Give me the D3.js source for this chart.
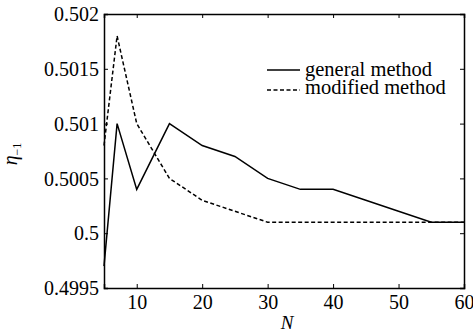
<!DOCTYPE html>
<html>
<head>
<meta charset="utf-8">
<script src="https://cdn.jsdelivr.net/npm/d3@7"></script>
<style>
  body { margin: 0; background: #fff; }
</style>
</head>
<body>
<div id="chart"></div>
<script>
// data
const nValues = [5, 7, 10, 15, 20, 25, 30, 35, 40, 45, 50, 55, 60];
const generalMethod = [0.4997, 0.501, 0.5004, 0.501, 0.5008, 0.5007, 0.5005, 0.5004, 0.5004, 0.5003, 0.5002, 0.5001, 0.5001];
const modifiedMethod = [0.5008, 0.5018, 0.501, 0.5005, 0.5003, 0.5002, 0.5001, 0.5001, 0.5001, 0.5001, 0.5001, 0.5001, 0.5001];
const xTicks = [10, 20, 30, 40, 50, 60];
const yTicks = [0.4995, 0.5, 0.5005, 0.501, 0.5015, 0.502];
const seriesNames = ["general method", "modified method"];

const width = 473, height = 335;
const margin = { top: 14, right: 9, bottom: 47, left: 104 };
const fontSize = 20;
const serif = "Times, 'Times New Roman', 'Liberation Serif', 'DejaVu Serif', serif";

const svg = d3.select("#chart").append("svg")
    .attr("width", width)
    .attr("height", height)
    .attr("font-family", serif);

const x = d3.scaleLinear().domain([5, 60]).range([margin.left, width - margin.right]);
const y = d3.scaleLinear().domain([0.4995, 0.502]).range([height - margin.bottom, margin.top]);

const fmt = d => String(+d.toFixed(4));

// axes with inward ticks on all four sides
const axBottom = svg.append("g")
    .attr("transform", `translate(0,${y.range()[0]})`)
    .call(d3.axisBottom(x).tickValues(xTicks).tickSize(-4).tickFormat(fmt));
const axTop = svg.append("g")
    .attr("transform", `translate(0,${y.range()[1]})`)
    .call(d3.axisTop(x).tickValues(xTicks).tickSize(-4).tickFormat(""));
const axLeft = svg.append("g")
    .attr("transform", `translate(${x.range()[0]},0)`)
    .call(d3.axisLeft(y).tickValues(yTicks).tickSize(-4).tickFormat(fmt));
const axRight = svg.append("g")
    .attr("transform", `translate(${x.range()[1]},0)`)
    .call(d3.axisRight(y).tickValues(yTicks).tickSize(-4).tickFormat(""));

[axBottom, axTop, axLeft, axRight].forEach(g => {
    g.attr("font-family", serif).attr("font-size", fontSize);
    g.select(".domain").attr("stroke", "#000").attr("stroke-width", 1.5);
    g.selectAll(".tick line").attr("stroke", "#000").attr("stroke-width", 1);
    g.selectAll(".tick text").attr("fill", "#000");
});

axBottom.selectAll(".tick text")
    .attr("y", 21).attr("dy", null);
axLeft.selectAll(".tick text")
    .attr("x", -5).attr("dy", "0.33em");

// lines
const line = vals => d3.line()
    .x((d, i) => x(nValues[i]))
    .y(d => y(d))(vals);

svg.append("path")
    .attr("d", line(generalMethod))
    .attr("fill", "none")
    .attr("stroke", "#000")
    .attr("stroke-width", 1.5);

svg.append("path")
    .attr("d", line(modifiedMethod))
    .attr("fill", "none")
    .attr("stroke", "#000")
    .attr("stroke-width", 1.5)
    .attr("stroke-dasharray", "4,2.5");

// legend
const legend = svg.append("g").attr("transform", "translate(267,70)");
seriesNames.forEach((name, i) => {
    legend.append("line")
        .attr("x1", 0).attr("x2", 33)
        .attr("y1", i * 20).attr("y2", i * 20)
        .attr("stroke", "#000")
        .attr("stroke-width", 1.5)
        .attr("stroke-dasharray", i === 1 ? "4,2.5" : null);
    legend.append("text")
        .attr("x", 38)
        .attr("y", i * 18 + 6)
        .attr("font-size", 20.5)
        .text(name);
});

// axis titles
svg.append("text")
    .attr("x", 287)
    .attr("y", 329)
    .attr("text-anchor", "middle")
    .attr("font-size", 19)
    .attr("font-style", "italic")
    .text("N");

const yl = svg.append("text")
    .attr("transform", "translate(17,154) rotate(-90)")
    .attr("text-anchor", "middle")
    .attr("font-size", 20);
yl.append("tspan").attr("font-style", "italic").text("η");
yl.append("tspan").attr("font-size", 12).attr("dy", 4).text("−1");
</script>
</body>
</html>
